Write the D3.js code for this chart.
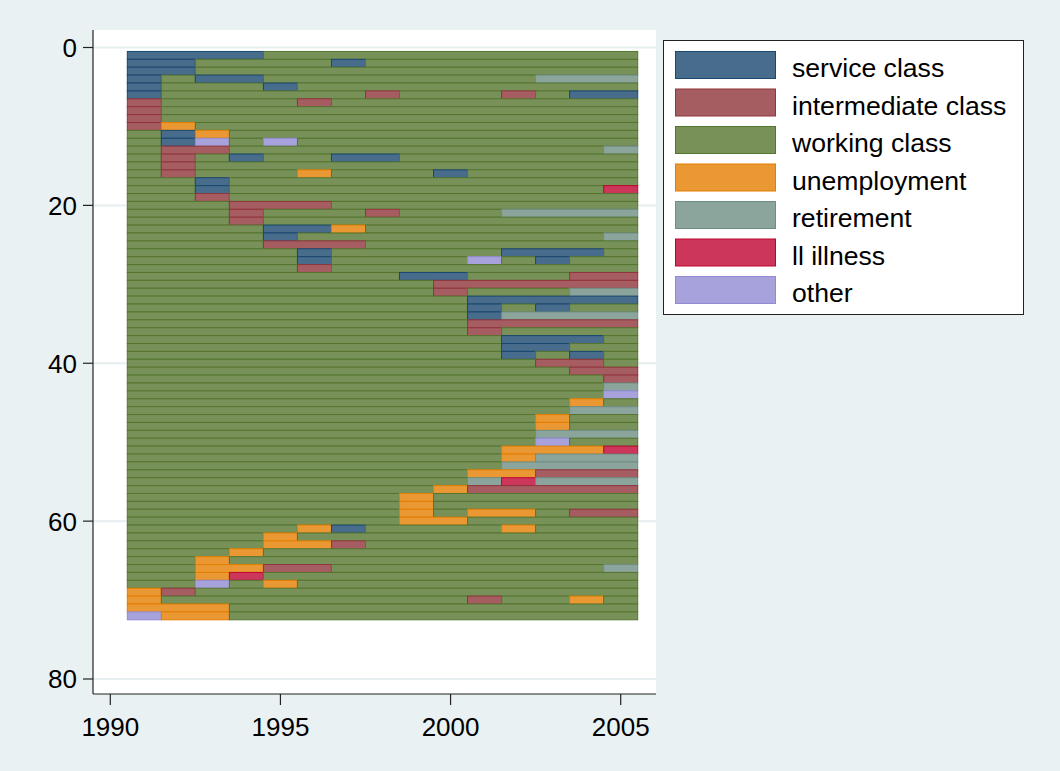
<!DOCTYPE html>
<html>
<head>
<meta charset="utf-8">
<script src="https://cdn.jsdelivr.net/npm/d3@7"></script>
<style>
  body { margin: 0; background: #eaf1f3; }
  svg { display: block; font-family: "Liberation Sans", Arial, sans-serif; }
</style>
</head>
<body>
<div id="chart"></div>
<script>
// yearly states, one column per year
var years = d3.range(1991, 2006);

var stateCodes = ['S', 'I', 'W', 'U', 'R', 'L', 'O'];
var stateLabels = ['service class', 'intermediate class', 'working class', 'unemployment', 'retirement', 'll illness', 'other'];
var stateColors = ['#1a476f', '#90353b', '#55752f', '#e37e00', '#6e8e84', '#bf0431', '#928bd3'];

// one string per case (rows 1..72), one letter per year
var sequences = [
  'SSSSWWWWWWWWWWW',
  'SSWWWWSWWWWWWWW',
  'SSWWWWWWWWWWWWW',
  'SWSSWWWWWWWWRRR',
  'SWWWSWWWWWWWWWW',
  'SWWWWWWIWWWIWSS',
  'IWWWWIWWWWWWWWW',
  'IWWWWWWWWWWWWWW',
  'IWWWWWWWWWWWWWW',
  'IUWWWWWWWWWWWWW',
  'WSUWWWWWWWWWWWW',
  'WSOWOWWWWWWWWWW',
  'WIIWWWWWWWWWWWR',
  'WIWSWWSSWWWWWWW',
  'WIWWWWWWWWWWWWW',
  'WIWWWUWWWSWWWWW',
  'WWSWWWWWWWWWWWW',
  'WWSWWWWWWWWWWWL',
  'WWIWWWWWWWWWWWW',
  'WWWIIIWWWWWWWWW',
  'WWWIWWWIWWWRRRR',
  'WWWIWWWWWWWWWWW',
  'WWWWSSUWWWWWWWW',
  'WWWWSWWWWWWWWWR',
  'WWWWIIIWWWWWWWW',
  'WWWWWSWWWWWSSSW',
  'WWWWWSWWWWOWSWW',
  'WWWWWIWWWWWWWWW',
  'WWWWWWWWSSWWWII',
  'WWWWWWWWWIIIIII',
  'WWWWWWWWWIWWWRR',
  'WWWWWWWWWWSSSSS',
  'WWWWWWWWWWSWSWW',
  'WWWWWWWWWWSRRRR',
  'WWWWWWWWWWIIIII',
  'WWWWWWWWWWIWWWW',
  'WWWWWWWWWWWSSSW',
  'WWWWWWWWWWWSSWW',
  'WWWWWWWWWWWSWSW',
  'WWWWWWWWWWWWIIW',
  'WWWWWWWWWWWWWII',
  'WWWWWWWWWWWWWWI',
  'WWWWWWWWWWWWWWR',
  'WWWWWWWWWWWWWWO',
  'WWWWWWWWWWWWWUW',
  'WWWWWWWWWWWWWRR',
  'WWWWWWWWWWWWUWW',
  'WWWWWWWWWWWWUWW',
  'WWWWWWWWWWWWRRR',
  'WWWWWWWWWWWWOWW',
  'WWWWWWWWWWWUUUL',
  'WWWWWWWWWWWURRR',
  'WWWWWWWWWWWRRRR',
  'WWWWWWWWWWUUIII',
  'WWWWWWWWWWRLRRR',
  'WWWWWWWWWUIIIII',
  'WWWWWWWWUWWWWWW',
  'WWWWWWWWUWWWWWW',
  'WWWWWWWWUWUUWII',
  'WWWWWWWWUUWWWWW',
  'WWWWWUSWWWWUWWW',
  'WWWWUWWWWWWWWWW',
  'WWWWUUIWWWWWWWW',
  'WWWUWWWWWWWWWWW',
  'WWUWWWWWWWWWWWW',
  'WWUUIIWWWWWWWWR',
  'WWULWWWWWWWWWWW',
  'WWOWUWWWWWWWWWW',
  'UIWWWWWWWWWWWWW',
  'UWWWWWWWWWIWWUW',
  'UUUWWWWWWWWWWWW',
  'OUUWWWWWWWWWWWW'
];

var xTicks = [1990, 1995, 2000, 2005];
var yTicks = [0, 20, 40, 60, 80];

var width = 1060, height = 771;
var plot = { left: 93, right: 656, top: 30, bottom: 694 };

var x = d3.scaleLinear().domain([1990, 2005]).range([110.3, 620.7]);
var y = d3.scaleLinear().domain([0, 80]).range([47.5, 679]);

var color = d3.scaleOrdinal().domain(stateCodes).range(stateColors);
// Stata-style fill: 80% intensity of the outline colour
function fillOf(code) {
  return d3.interpolateRgb(color(code), '#ffffff')(0.2);
}

var svg = d3.select('#chart').append('svg')
    .attr('width', width)
    .attr('height', height);

svg.append('rect')
    .attr('width', width).attr('height', height)
    .attr('fill', '#eaf1f3');

svg.append('rect')
    .attr('x', plot.left).attr('y', plot.top)
    .attr('width', plot.right - plot.left)
    .attr('height', plot.bottom - plot.top)
    .attr('fill', '#ffffff');

// grid lines
svg.selectAll('.grid')
    .data(yTicks)
  .enter().append('line')
    .attr('class', 'grid')
    .attr('x1', plot.left).attr('x2', plot.right)
    .attr('y1', function(d) { return y(d); })
    .attr('y2', function(d) { return y(d); })
    .attr('stroke', '#e6eef0')
    .attr('stroke-width', 2);

// turn every sequence into spells of the same state
var spells = [];
sequences.forEach(function(seq, r) {
  var start = 0;
  for (var k = 1; k <= seq.length; k++) {
    if (k === seq.length || seq[k] !== seq[start]) {
      spells.push({ row: r + 1, state: seq[start], from: years[start], to: years[k - 1] });
      start = k;
    }
  }
});

svg.selectAll('.spell')
    .data(spells)
  .enter().append('rect')
    .attr('class', 'spell')
    .attr('x', function(d) { return x(d.from - 0.5); })
    .attr('y', function(d) { return y(d.row - 0.5); })
    .attr('width', function(d) { return x(d.to + 0.5) - x(d.from - 0.5); })
    .attr('height', function(d) { return y(d.row + 0.5) - y(d.row - 0.5); })
    .attr('fill', function(d) { return fillOf(d.state); })
    .attr('stroke', function(d) { return color(d.state); })
    .attr('stroke-width', 1);

// axes
var axisColor = '#222';
svg.append('line')
    .attr('x1', plot.left).attr('x2', plot.left)
    .attr('y1', plot.top).attr('y2', plot.bottom)
    .attr('stroke', axisColor).attr('stroke-width', 1.2);
svg.append('line')
    .attr('x1', plot.left).attr('x2', plot.right)
    .attr('y1', plot.bottom).attr('y2', plot.bottom)
    .attr('stroke', axisColor).attr('stroke-width', 1.2);

var yt = svg.selectAll('.ytick').data(yTicks).enter().append('g')
    .attr('transform', function(d) { return 'translate(0,' + y(d) + ')'; });
yt.append('line')
    .attr('x1', plot.left - 10).attr('x2', plot.left)
    .attr('stroke', axisColor).attr('stroke-width', 1.2);
yt.append('text')
    .attr('x', plot.left - 16)
    .attr('dy', '0.36em')
    .attr('text-anchor', 'end')
    .style('font-size', '26px')
    .text(function(d) { return d; });

var xt = svg.selectAll('.xtick').data(xTicks).enter().append('g')
    .attr('transform', function(d) { return 'translate(' + x(d) + ',0)'; });
xt.append('line')
    .attr('y1', plot.bottom).attr('y2', plot.bottom + 11)
    .attr('stroke', axisColor).attr('stroke-width', 1.2);
xt.append('text')
    .attr('y', 736)
    .attr('text-anchor', 'middle')
    .style('font-size', '26px')
    .text(function(d) { return d; });

// legend
var legend = svg.append('g');
legend.append('rect')
    .attr('x', 663.5).attr('y', 40.5)
    .attr('width', 360).attr('height', 274)
    .attr('fill', '#ffffff')
    .attr('stroke', '#222').attr('stroke-width', 1);

var items = legend.selectAll('.item')
    .data(stateCodes)
  .enter().append('g')
    .attr('transform', function(d, i) { return 'translate(0,' + (51 + i * 37.5) + ')'; });
items.append('rect')
    .attr('x', 675.5).attr('y', 0.5)
    .attr('width', 100).attr('height', 27)
    .attr('fill', function(d) { return fillOf(d); })
    .attr('stroke', function(d) { return color(d); })
    .attr('stroke-width', 1);
items.append('text')
    .attr('x', 792)
    .attr('y', 26)
    .style('font-size', '26.6px')
    .text(function(d, i) { return stateLabels[i]; });
</script>
</body>
</html>
